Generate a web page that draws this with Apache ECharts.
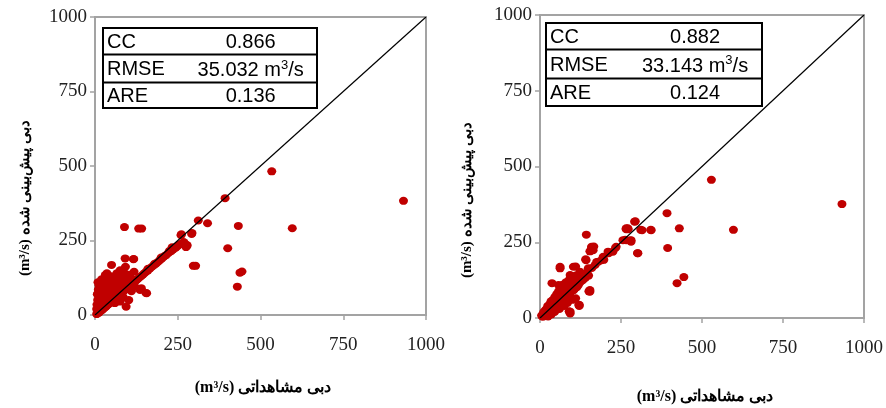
<!DOCTYPE html>
<html>
<head>
<meta charset="utf-8">
<script src="https://cdn.jsdelivr.net/npm/echarts@6/dist/echarts.min.js"></script>
<style>
  html, body { margin: 0; padding: 0; background: #fff; }
  #chart { width: 886px; height: 408px; }
</style>
</head>
<body>
<div id="chart"></div>
<script>
// Observed vs. predicted discharge (m³/s), model A (left panel)
const pointsA = [
  [534,482],[932,383],[393,392],[312,317],[340,308],[433,299],[596,291],[401,224],
  [438,142],[444,146],[430,95],[297,165],[304,165],[292,272],[260,268],[261,271],
  [293,275],[89,295],[132,290],[141,290],[116,187],[91,190],[156,73],[136,84],
  [94,28],[50,168],[35,129],[92,162],[31,134],[76,45],[102,50],[60,40],[85,60],
  [110,80],[120,95],[140,90],[154,74],[271,240],[278,235],[233,227],
  [5,3],[8,6],[10,9],[12,8],[15,12],[18,15],[20,18],[22,17],[25,22],[28,24],
  [30,27],[33,28],[36,33],[38,34],[40,37],[43,38],[46,42],[48,44],[52,48],[55,50],
  [58,52],[60,56],[63,58],[66,60],[70,64],[73,68],[76,70],[80,74],[83,78],[86,80],
  [90,84],[94,88],[98,92],[102,95],[106,100],[110,104],[114,106],[118,111],[122,115],
  [126,118],[130,122],[135,127],[140,131],[145,136],[150,141],[155,146],[160,150],
  [166,156],[172,162],[178,167],[184,172],[190,178],[196,184],[202,190],[208,196],
  [215,201],[222,208],[230,214],[236,220],[244,226],[250,232],[258,238],[265,240],
  [272,236],[278,232],[268,245],[275,228],[180,172],[200,193],[225,215],[160,155],
  [5,20],[6,35],[8,50],[7,70],[10,85],[12,100],[9,110],[14,60],[15,40],[16,75],
  [18,95],[20,120],[20,55],[22,80],[24,105],[25,35],[26,65],[28,90],[30,115],[30,45],
  [32,75],[34,100],[35,55],[36,140],[38,85],[40,120],[40,65],[42,95],[44,50],[45,110],
  [47,75],[48,130],[50,90],[52,60],[54,105],[55,80],[57,125],[58,70],[60,95],[62,110],
  [64,85],[66,140],[68,100],[70,78],[72,120],[74,92],[76,150],[78,105],[80,88],[82,130],
  [84,100],[86,118],[88,95],[90,140],[92,108],[95,125],[98,102],[100,115],[103,100],
  [105,135],[108,112],[110,98],[112,120],[115,108],[118,145],[120,112],[117,188]
];

// Observed vs. predicted discharge (m³/s), model B (right panel)
const pointsB = [
  [529,456],[932,376],[392,346],[294,319],[266,293],[272,293],[311,291],[342,291],
  [430,296],[597,291],[394,231],[301,214],[423,115],[444,135],[143,275],
  [197,192],[212,214],[233,231],[263,258],[279,256],[190,191],[225,219],[266,257],
  [281,257],[266,296],[159,230],[166,236],[154,220],[141,194],[149,164],[154,87],
  [121,43],[93,15],[62,169],[103,169],[37,115],[93,142],[110,170],[151,88],[120,44],
  [90,22],[159,235],[164,224],[142,191],[180,186],[195,202],[210,219],[235,235],
  [256,257],[271,296],[292,318],[315,290],[343,290],[302,214],[281,252],[62,164],
  [93,131],[123,153],[154,92],[121,40],[93,21],[57,109],[72,92],
  [5,8],[8,4],[10,15],[12,20],[14,6],[16,25],[18,12],[20,30],[22,18],[24,40],
  [26,22],[28,10],[30,45],[32,28],[34,55],[36,35],[38,20],[40,60],[42,42],[44,30],
  [46,70],[48,50],[50,38],[52,80],[54,58],[56,45],[58,90],[60,66],[62,52],[64,100],
  [66,72],[68,60],[70,110],[72,80],[74,64],[76,95],[78,70],[80,118],[82,88],[84,74],
  [86,105],[88,80],[90,125],[92,96],[94,84],[96,112],[98,90],[100,130],[102,104],
  [104,92],[106,118],[108,98],[110,140],[112,112],[114,102],[116,125],[118,108],
  [120,130],[124,118],[128,135],[132,125],[136,140],[140,132],[145,150],[150,140],
  [160,165],[170,175],[175,185],[45,20],[60,30],[75,40],[85,50],[100,60],[110,65],
  [25,5],[35,12]
];

// 1:1 reference line
const identityLine = [[0, 0], [1000, 1000]];

// Axis ticks
const axisMin = 0, axisMax = 1000, axisStep = 250;

// Goodness-of-fit tables
const statLabels = ['CC', 'RMSE', 'ARE'];
const statsA = ['0.866', '35.032', '0.136'];
const statsB = ['0.882', '33.143', '0.124'];

const xTitle = '(m³/s) دبی مشاهداتی';
const yTitle = '(m³/s) دبی پیش‌بینی شده';

const serif = '"Liberation Serif", "Times New Roman", Times, serif';
const sans = '"Liberation Sans", Arial, sans-serif';
const gridColor = '#a3a3a3';
const dotColor = '#c00000';

const chart = echarts.init(document.getElementById('chart'), null, { renderer: 'canvas' });

function makeAxis(gridIndex, isX) {
  return {
    type: 'value', gridIndex,
    min: axisMin, max: axisMax, interval: axisStep,
    axisLine: { show: true, onZero: false, lineStyle: { color: gridColor, width: 2 } },
    axisTick: { show: true, inside: false, length: 5, lineStyle: { color: gridColor, width: 1.5 } },
    axisLabel: { color: '#222', fontFamily: serif, fontSize: 19, margin: isX ? 21 : 8,
      formatter: v => String(v) },
    splitLine: { show: false }
  };
}

function statTable(x, y, w, rows, values) {
  const els = [];
  els.push({ type: 'rect', shape: { x, y, width: w, height: rows[rows.length - 1] - y },
    style: { fill: '#fff', stroke: '#000', lineWidth: 2 }, z: 10 });
  for (let i = 1; i < rows.length - 1; i++) {
    els.push({ type: 'line', shape: { x1: x, y1: rows[i], x2: x + w, y2: rows[i] },
      style: { stroke: '#000', lineWidth: 2 }, z: 11 });
  }
  const cx = x + w * 0.69;
  statLabels.forEach((lab, i) => {
    const cy = (rows[i] + rows[i + 1]) / 2 + 1;
    els.push({ type: 'text', x: x + 4, y: cy, z: 12,
      style: { text: lab, fill: '#000', font: '20px ' + sans, textAlign: 'left', textVerticalAlign: 'middle' } });
    const isRmse = lab === 'RMSE';
    els.push({ type: 'text', x: cx, y: cy, z: 12,
      style: isRmse ? {
        text: '{v|' + values[i] + ' m}{s|3}{v|/s}',
        rich: {
          v: { fontSize: 20, fontFamily: sans, fill: '#000', verticalAlign: 'bottom', lineHeight: 22 },
          s: { fontSize: 13, fontFamily: sans, fill: '#000', verticalAlign: 'top', lineHeight: 22 }
        },
        textAlign: 'center', textVerticalAlign: 'middle'
      } : { text: values[i], fill: '#000', font: '20px ' + sans, textAlign: 'center', textVerticalAlign: 'middle' } });
  });
  return els;
}

function titleText(x, y, text, size, rotation) {
  return { type: 'text', x, y, rotation: rotation || 0, z: 5,
    style: { text, fill: '#000', font: 'bold ' + size + 'px ' + serif, textAlign: 'center', textVerticalAlign: 'middle' } };
}

const option = {
  animation: false,
  backgroundColor: '#fff',
  grid: [
    { left: 95, top: 17, width: 331, height: 298, show: true, borderColor: gridColor, borderWidth: 2, backgroundColor: 'transparent' },
    { left: 540, top: 15, width: 327, height: 303, show: true, borderColor: gridColor, borderWidth: 2, backgroundColor: 'transparent' }
  ],
  xAxis: [makeAxis(0, true), makeAxis(1, true)],
  yAxis: [makeAxis(0, false), makeAxis(1, false)],
  series: [
    { type: 'scatter', xAxisIndex: 0, yAxisIndex: 0, data: pointsA, symbol: 'circle', symbolSize: [9, 8],
      itemStyle: { color: dotColor, opacity: 1 }, z: 2 },
    { type: 'line', xAxisIndex: 0, yAxisIndex: 0, data: identityLine, symbol: 'none',
      lineStyle: { color: '#000', width: 1.2 }, z: 3 },
    { type: 'scatter', xAxisIndex: 1, yAxisIndex: 1, data: pointsB, symbol: 'circle', symbolSize: [9, 8],
      itemStyle: { color: dotColor, opacity: 1 }, z: 2 },
    { type: 'line', xAxisIndex: 1, yAxisIndex: 1, data: identityLine, symbol: 'none',
      lineStyle: { color: '#000', width: 1.2 }, z: 3 }
  ],
  graphic: [].concat(
    statTable(103, 28, 214, [28, 54.5, 82.5, 108], statsA),
    statTable(546, 23, 216, [23, 49.5, 78.5, 106], statsB),
    [
      titleText(263, 388, xTitle, 16),
      titleText(705, 397, xTitle, 16),
      titleText(25, 198, yTitle, 15, Math.PI / 2),
      titleText(467, 200, yTitle, 15, Math.PI / 2)
    ]
  )
};

chart.setOption(option);
</script>
</body>
</html>
